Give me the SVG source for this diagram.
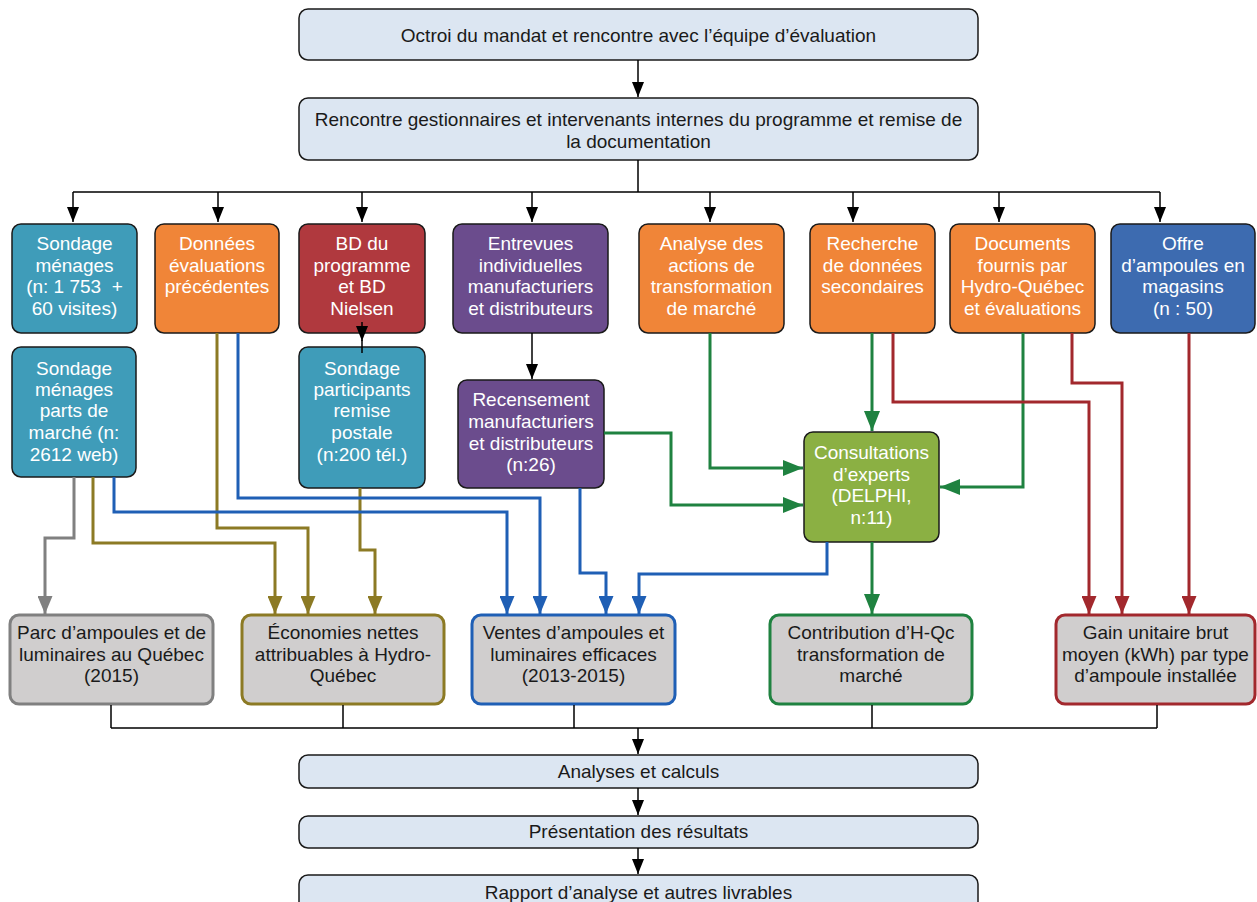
<svg xmlns="http://www.w3.org/2000/svg" width="1257" height="902" viewBox="0 0 1257 902">
<style>
text{font-family:"Liberation Sans",Arial,sans-serif;font-size:19px;text-anchor:middle}
.w{fill:#ffffff}
.k{fill:#1a1a1a}
.top{fill:#dce6f2;stroke:#1a1a1a;stroke-width:1.5}
.col{stroke:#1a1a1a;stroke-width:1.5}
.bot{fill:#d0cece;stroke-width:3}
.blk{fill:none;stroke:#000;stroke-width:1.5}
.c{fill:none;stroke-width:3}
</style>
<defs>
<marker id="ak" viewBox="0 0 15 12" markerWidth="15" markerHeight="12" refX="15" refY="6" orient="auto" markerUnits="userSpaceOnUse"><path d="M0,0L15,6L0,12z" fill="#000"/></marker>
<marker id="ag" viewBox="0 0 18 15" markerWidth="18" markerHeight="15" refX="18" refY="7.5" orient="auto" markerUnits="userSpaceOnUse"><path d="M0,0L18,7.5L0,15z" fill="#808080"/></marker>
<marker id="ao" viewBox="0 0 18 15" markerWidth="18" markerHeight="15" refX="18" refY="7.5" orient="auto" markerUnits="userSpaceOnUse"><path d="M0,0L18,7.5L0,15z" fill="#8c7a24"/></marker>
<marker id="ab" viewBox="0 0 18 15" markerWidth="18" markerHeight="15" refX="18" refY="7.5" orient="auto" markerUnits="userSpaceOnUse"><path d="M0,0L18,7.5L0,15z" fill="#1f5fb5"/></marker>
<marker id="an" viewBox="0 0 20 16" markerWidth="20" markerHeight="16" refX="20" refY="8" orient="auto" markerUnits="userSpaceOnUse"><path d="M0,0L20,8L0,16z" fill="#1f8240"/></marker>
<marker id="ar" viewBox="0 0 18 15" markerWidth="18" markerHeight="15" refX="18" refY="7.5" orient="auto" markerUnits="userSpaceOnUse"><path d="M0,0L18,7.5L0,15z" fill="#a2282d"/></marker>
</defs>

<g id="n-octroi"><rect class="top" x="299" y="9" width="679" height="51" rx="9"/><text class="k" x="638.5" y="42">Octroi du mandat et rencontre avec l’équipe d’évaluation</text></g>
<g id="n-rencontre"><rect class="top" x="299" y="98" width="679" height="62" rx="9"/><text class="k" x="638.5" y="126">Rencontre gestionnaires et intervenants internes du programme et remise de</text><text class="k" x="638.5" y="148">la documentation</text></g>

<g id="n-sondage-menages"><rect class="col" x="12" y="224" width="125" height="109" rx="9" fill="#3f9cb9"/><text class="w" x="74.5" y="250">Sondage</text><text class="w" x="74.5" y="272">ménages</text><text class="w" x="74.5" y="293" xml:space="preserve">(n: 1 753  +</text><text class="w" x="74.5" y="315">60 visites)</text></g>
<g id="n-donnees"><rect class="col" x="155" y="224" width="124" height="109" rx="9" fill="#f08538"/><text class="w" x="217" y="250">Données</text><text class="w" x="217" y="272">évaluations</text><text class="w" x="217" y="293">précédentes</text></g>
<g id="n-bd"><rect class="col" x="299" y="224" width="126" height="109" rx="9" fill="#b0393e"/><text class="w" x="362" y="250">BD du</text><text class="w" x="362" y="272">programme</text><text class="w" x="362" y="293">et BD</text><text class="w" x="362" y="315">Nielsen</text></g>
<g id="n-entrevues"><rect class="col" x="453" y="224" width="155" height="109" rx="9" fill="#6b4c8d"/><text class="w" x="530.5" y="250">Entrevues</text><text class="w" x="530.5" y="272">individuelles</text><text class="w" x="530.5" y="293">manufacturiers</text><text class="w" x="530.5" y="315">et distributeurs</text></g>
<g id="n-analyse"><rect class="col" x="639" y="224" width="145" height="109" rx="9" fill="#f08538"/><text class="w" x="711.5" y="250">Analyse des</text><text class="w" x="711.5" y="272">actions de</text><text class="w" x="711.5" y="293">transformation</text><text class="w" x="711.5" y="315">de marché</text></g>
<g id="n-recherche"><rect class="col" x="810" y="224" width="125" height="109" rx="9" fill="#f08538"/><text class="w" x="872.5" y="250">Recherche</text><text class="w" x="872.5" y="272">de données</text><text class="w" x="872.5" y="293">secondaires</text></g>
<g id="n-documents"><rect class="col" x="950" y="224" width="145" height="109" rx="9" fill="#f08538"/><text class="w" x="1022.5" y="250">Documents</text><text class="w" x="1022.5" y="272">fournis par</text><text class="w" x="1022.5" y="293">Hydro-Québec</text><text class="w" x="1022.5" y="315">et évaluations</text></g>
<g id="n-offre"><rect class="col" x="1111" y="224" width="144" height="109" rx="9" fill="#3d6bb0"/><text class="w" x="1183" y="250">Offre</text><text class="w" x="1183" y="272">d’ampoules en</text><text class="w" x="1183" y="293">magasins</text><text class="w" x="1183" y="315">(n : 50)</text></g>

<g id="n-sondage-parts"><rect class="col" x="12" y="347" width="124" height="130" rx="9" fill="#3f9cb9"/><text class="w" x="74" y="375">Sondage</text><text class="w" x="74" y="396">ménages</text><text class="w" x="74" y="417">parts de</text><text class="w" x="74" y="439">marché (n:</text><text class="w" x="74" y="461">2612 web)</text></g>
<g id="n-participants"><rect class="col" x="299" y="347" width="126" height="141" rx="9" fill="#3f9cb9"/><text class="w" x="362" y="375">Sondage</text><text class="w" x="362" y="396">participants</text><text class="w" x="362" y="417">remise</text><text class="w" x="362" y="439">postale</text><text class="w" x="362" y="461">(n:200 tél.)</text></g>
<g id="n-recensement"><rect class="col" x="458" y="380" width="146" height="108" rx="9" fill="#6b4c8d"/><text class="w" x="531" y="406">Recensement</text><text class="w" x="531" y="428">manufacturiers</text><text class="w" x="531" y="450">et distributeurs</text><text class="w" x="531" y="471">(n:26)</text></g>
<g id="n-consultations"><rect class="col" x="804" y="432" width="135" height="110" rx="9" fill="#8bb043"/><text class="w" x="871.5" y="459">Consultations</text><text class="w" x="871.5" y="481">d’experts</text><text class="w" x="871.5" y="502">(DELPHI,</text><text class="w" x="871.5" y="524">n:11)</text></g>

<g id="n-parc"><rect class="bot" x="10" y="615" width="203" height="89" rx="9" stroke="#808080"/><text class="k" x="111.5" y="639">Parc d’ampoules et de</text><text class="k" x="111.5" y="661">luminaires au Québec</text><text class="k" x="111.5" y="682">(2015)</text></g>
<g id="n-economies"><rect class="bot" x="242" y="615" width="202" height="89" rx="9" stroke="#8c7a24"/><text class="k" x="343" y="639">Économies nettes</text><text class="k" x="343" y="661">attribuables à Hydro-</text><text class="k" x="343" y="682">Québec</text></g>
<g id="n-ventes"><rect class="bot" x="472" y="615" width="203" height="89" rx="9" stroke="#1f5fb5"/><text class="k" x="573.5" y="639">Ventes d’ampoules et</text><text class="k" x="573.5" y="661">luminaires efficaces</text><text class="k" x="573.5" y="682">(2013-2015)</text></g>
<g id="n-contribution"><rect class="bot" x="770" y="615" width="202" height="89" rx="9" stroke="#1f8240"/><text class="k" x="871" y="639">Contribution d’H-Qc</text><text class="k" x="871" y="661">transformation de</text><text class="k" x="871" y="682">marché</text></g>
<g id="n-gain"><rect class="bot" x="1056" y="615" width="199" height="89" rx="9" stroke="#a2282d"/><text class="k" x="1155.5" y="639">Gain unitaire brut</text><text class="k" x="1155.5" y="661">moyen (kWh) par type</text><text class="k" x="1155.5" y="682">d’ampoule installée</text></g>

<g id="n-analyses"><rect class="top" x="299" y="755" width="679" height="33" rx="9"/><text class="k" x="638.5" y="778">Analyses et calculs</text></g>
<g id="n-presentation"><rect class="top" x="299" y="816" width="679" height="32" rx="9"/><text class="k" x="638.5" y="838">Présentation des résultats</text></g>
<g id="n-rapport"><rect class="top" x="299" y="875" width="679" height="40" rx="9"/><text class="k" x="638.5" y="899">Rapport d’analyse et autres livrables</text></g>

<g id="connectors">
<path class="blk" d="M638,60V97" marker-end="url(#ak)"/>
<path class="blk" d="M638,160V192M73,192H1160"/>
<path class="blk" d="M73,192V222" marker-end="url(#ak)"/>
<path class="blk" d="M218,192V222" marker-end="url(#ak)"/>
<path class="blk" d="M362,192V222" marker-end="url(#ak)"/>
<path class="blk" d="M532,192V222" marker-end="url(#ak)"/>
<path class="blk" d="M710,192V222" marker-end="url(#ak)"/>
<path class="blk" d="M853,192V222" marker-end="url(#ak)"/>
<path class="blk" d="M999,192V222" marker-end="url(#ak)"/>
<path class="blk" d="M1160,192V222" marker-end="url(#ak)"/>
<path class="blk" d="M362,322V341" marker-end="url(#ak)"/>
<path class="blk" d="M362,340V353"/>
<path class="blk" d="M532,333V379" marker-end="url(#ak)"/>

<path class="c" stroke="#808080" d="M74,477V538H45V614" marker-end="url(#ag)"/>
<path class="c" stroke="#8c7a24" d="M93,477V543H275V614" marker-end="url(#ao)"/>
<path class="c" stroke="#8c7a24" d="M217,333V528H308V614" marker-end="url(#ao)"/>
<path class="c" stroke="#8c7a24" d="M360,488V550H375V614" marker-end="url(#ao)"/>
<path class="c" stroke="#1f5fb5" d="M114,477V512H507V614" marker-end="url(#ab)"/>
<path class="c" stroke="#1f5fb5" d="M238,333V498H540V614" marker-end="url(#ab)"/>
<path class="c" stroke="#1f5fb5" d="M580,488V573H606V614" marker-end="url(#ab)"/>
<path class="c" stroke="#1f5fb5" d="M827,542V574H639V614" marker-end="url(#ab)"/>
<path class="c" stroke="#1f8240" d="M710,333V468H803" marker-end="url(#an)"/>
<path class="c" stroke="#1f8240" d="M604,433H671V505H803" marker-end="url(#an)"/>
<path class="c" stroke="#1f8240" d="M872,333V431" marker-end="url(#an)"/>
<path class="c" stroke="#1f8240" d="M1023,333V487H940" marker-end="url(#an)"/>
<path class="c" stroke="#1f8240" d="M872,542V614" marker-end="url(#an)"/>
<path class="c" stroke="#a2282d" d="M893,333V402H1089V614" marker-end="url(#ar)"/>
<path class="c" stroke="#a2282d" d="M1072,333V383H1122V614" marker-end="url(#ar)"/>
<path class="c" stroke="#a2282d" d="M1189,333V614" marker-end="url(#ar)"/>

<path class="blk" d="M111,705V728M343,705V728M574,705V728M872,705V728M1157,705V728M111,728H1157"/>
<path class="blk" d="M638,728V754" marker-end="url(#ak)"/>
<path class="blk" d="M638,788V815" marker-end="url(#ak)"/>
<path class="blk" d="M638,848V874" marker-end="url(#ak)"/>
</g>
</svg>
